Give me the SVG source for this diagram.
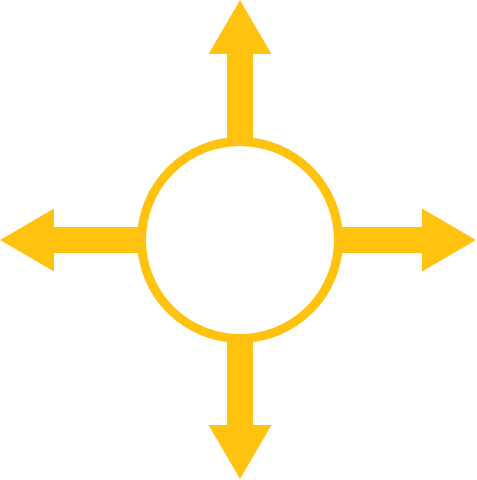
<svg xmlns="http://www.w3.org/2000/svg" width="477" height="480" viewBox="0 0 477 480">
<style>
.arrow{fill:#FFC20E;stroke:none}
.ring{fill:#FFFFFF;stroke:#FFC20E;stroke-width:9}
</style>
<rect width="477" height="480" fill="#FFFFFF"/>
<g id="connectors">
<path class="arrow" d="M240,0 L271.5,54 L253,54 L253,145 L227,145 L227,54 L208.5,54 Z"/>
<path class="arrow" d="M240,479 L271.5,425 L253,425 L253,335 L227,335 L227,425 L208.5,425 Z"/>
<path class="arrow" d="M0,240 L54,208.5 L54,227 L145,227 L145,253 L54,253 L54,271.5 Z"/>
<path class="arrow" d="M476,240 L422,208.5 L422,227 L335,227 L335,253 L422,253 L422,271.5 Z"/>
</g>
<g id="center">
<circle class="ring" cx="240" cy="240" r="98.5"/>
</g>
</svg>
